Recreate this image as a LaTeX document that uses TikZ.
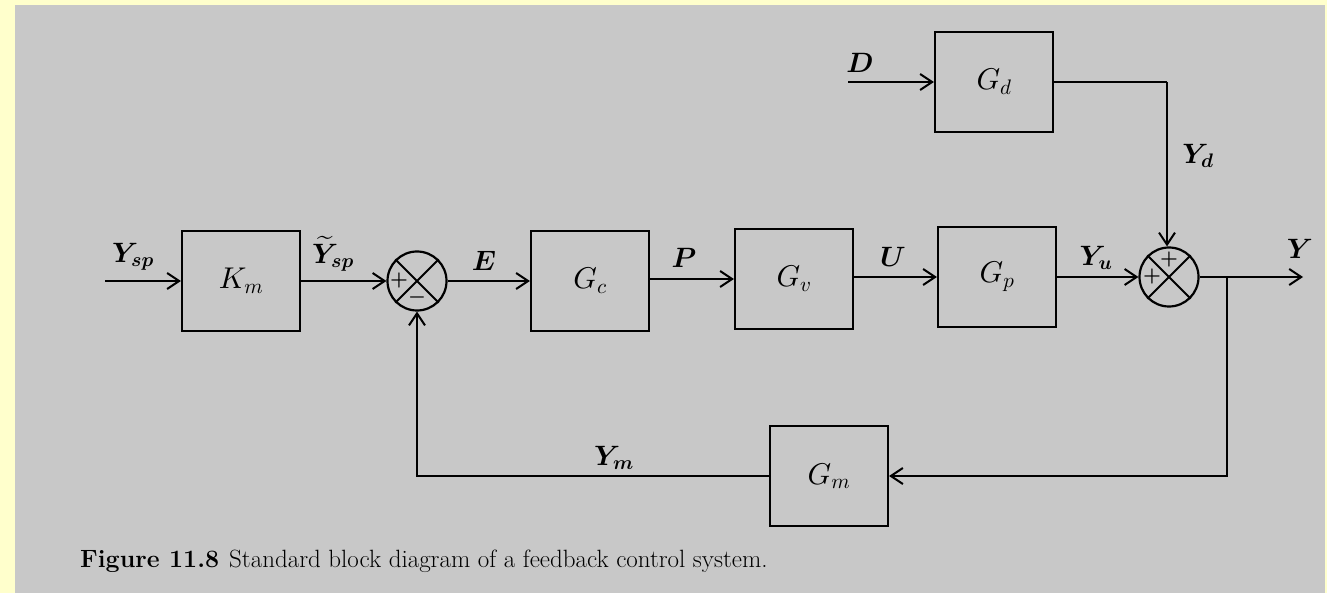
\documentclass[tikz,border=0pt]{standalone}
\usepackage{amsmath}
\usepackage{bm}
\DeclareFontShape{OML}{cmm}{m}{it}{<->cmmi10}{}
\DeclareFontShape{OML}{cmm}{b}{it}{<->cmmib10}{}
\DeclareFontShape{OMS}{cmsy}{m}{n}{<->cmsy10}{}
\DeclareFontShape{OMS}{cmsy}{b}{n}{<->cmbsy10}{}
\DeclareFontShape{OT1}{cmr}{m}{n}{<->cmr10}{}
\DeclareFontShape{OT1}{cmr}{bx}{n}{<->cmbx10}{}
\DeclareFontShape{OMX}{cmex}{m}{n}{<->cmex10}{}
\usetikzlibrary{arrows.meta}
\definecolor{bgyellow}{HTML}{FFFFCC}
\definecolor{bggray}{HTML}{C8C8C8}
\tikzset{
  blk/.style={draw, line width=2.2pt, minimum width=118pt, minimum height=100pt, inner sep=0pt, font=\fontsize{30}{32}\selectfont},
  sumc/.style={draw, circle, line width=2.2pt, minimum size=59pt, inner sep=0pt},
  conn/.style={line width=2.8pt, -{Straight Barb[length=12pt,width=16pt,line width=2pt]}},
  wire/.style={line width=2.8pt},
  lbl/.style={font=\fontsize{28}{30}\selectfont, inner sep=0pt},
  sgn/.style={font=\fontsize{20}{22}\selectfont, inner sep=0pt}
}
\begin{document}
\begin{tikzpicture}[x=1pt,y=-1pt]
\useasboundingbox (0,0) rectangle (1327,593);
\fill[bgyellow] (0,0) rectangle (1327,593);
\fill[bggray] (15,5) rectangle (1325,593);

% blocks
\node[blk] (Km) at (241,281) {$K_m$};
\node[sumc] (s1) at (417,281) {};
\node[blk] (Gc) at (590,281) {$G_c$};
\node[blk] (Gv) at (794,279) {$G_v$};
\node[blk] (Gp) at (997,277) {$G_p$};
\node[sumc] (s2) at (1169,277) {};
\node[blk] (Gd) at (994,82) {$G_d$};
\node[blk] (Gm) at (829,476) {$G_m$};

% sum junction crosses and signs
\draw[line width=1.8pt] (s1.north west) -- (s1.south east) (s1.north east) -- (s1.south west);
\draw[line width=1.8pt] (s2.north west) -- (s2.south east) (s2.north east) -- (s2.south west);
\node[sgn] (p1) at ([xshift=-18pt]s1.center) {$\bm{+}$};
\node[sgn] (m1) at ([yshift=-17pt]s1.center) {$\bm{-}$};
\node[sgn] (p2) at ([yshift=17pt]s2.center) {$\bm{+}$};
\node[sgn] (p3) at ([xshift=-17pt]s2.center) {$\bm{+}$};

% coordinates
\coordinate (in) at (105,281);
\coordinate (Din) at (848,82);
\coordinate (corner) at (1167,82);
\coordinate (br) at (1227,277);
\coordinate (out) at (1303,277);
\coordinate (brd) at (1227,476);
\coordinate (fbc) at (417,476);

% connectors
\draw[conn] (in) -- (Km.west);
\draw[conn] (Km.east) -- (s1.west);
\draw[conn] (s1.east) -- (Gc.west |- s1.east);
\draw[conn] (Gc.east |- Gv.west) -- (Gv.west);
\draw[conn] (Gv.east |- Gp.west) -- (Gp.west);
\draw[conn] (Gp.east) -- (s2.west);
\draw[conn] (s2.east) -- (out);
\draw[conn] (Din) -- (Gd.west);
\draw[wire] (Gd.east) -- (corner);
\draw[conn] (corner) -- (corner |- s2.north);
\draw[conn] (br) -- (brd) -- (Gm.east);
\draw[conn] (Gm.west) -- (fbc) -- (s1.south);

% labels
\node[lbl] (lYsp) at (133,257) {$\bm{Y_{sp}}$};
\node[lbl] (lYtsp) at (333,254) {$\bm{\widetilde{Y}_{sp}}$};
\node[lbl] (lE) at (484,261) {$\bm{E}$};
\node[lbl] (lP) at (684,258) {$\bm{P}$};
\node[lbl] (lU) at (893,257) {$\bm{U}$};
\node[lbl] (lYu) at (1096,258) {$\bm{Y_u}$};
\node[lbl] (lY) at (1300,249) {$\bm{Y}$};
\node[lbl] (lD) at (860,63) {$\bm{D}$};
\node[lbl] (lYd) at (1198,156) {$\bm{Y_d}$};
\node[lbl] (lYm) at (614,458) {$\bm{Y_m}$};

% caption
\node[anchor=base west, inner sep=0pt, font=\fontsize{25}{27}\selectfont] (cap) at (80,567) {\textbf{Figure 11.8}\hspace{10pt}Standard block diagram of a feedback control system.};
\end{tikzpicture}
\end{document}
